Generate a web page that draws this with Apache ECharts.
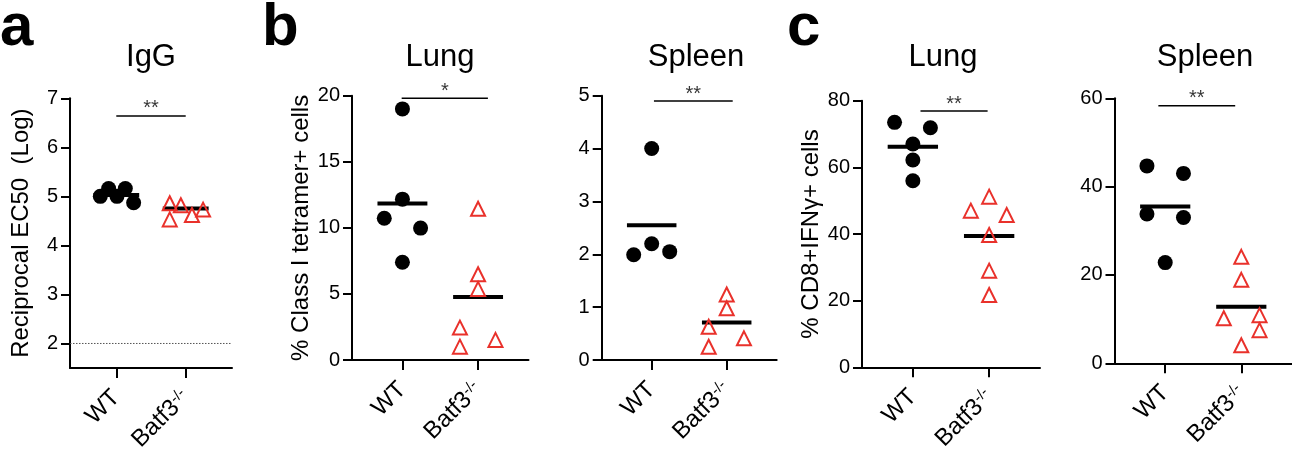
<!DOCTYPE html>
<html>
<head>
<meta charset="utf-8">
<script src="https://cdn.jsdelivr.net/npm/echarts@6/dist/echarts.min.js"></script>
<style>
  html, body { margin: 0; background: #fff; }
  #chart { width: 1292px; height: 455px; }
</style>
</head>
<body>
<div id="chart"></div>
<script>
// group labels on the x axis (0 = WT, 1 = Batf3-/-)
const groups = ['WT', 'Batf3-/-'];
const panelTitles = ['IgG', 'Lung', 'Spleen', 'Lung', 'Spleen'];
const panelLetters = ['a', 'b', 'c'];
const yNames = ['Reciprocal EC50  (Log)', '% Class I tetramer+ cells', '', '% CD8+IFNγ+ cells', ''];

// [jitter offset from group centre, value]
const iggWT    = [[-0.23, 5.0], [-0.11, 5.16], [0.01, 5.0], [0.13, 5.16], [0.25, 4.87]];
const iggKO    = [[-0.23, 4.86], [-0.07, 4.82], [-0.23, 4.53], [0.09, 4.62], [0.25, 4.73]];
const tetLungWT  = [[0, 19.0], [0, 12.17], [-0.24, 10.73], [0.24, 9.98], [0, 7.4]];
const tetLungKO  = [[0, 11.45], [0, 6.49], [0, 5.38], [-0.24, 2.45], [-0.24, 1.01], [0.23, 1.52]];
const tetSplWT   = [[0, 4.0], [-0.24, 1.99], [0, 2.2], [0.24, 2.05]];
const tetSplKO   = [[0, 1.24], [0, 0.98], [-0.24, 0.63], [-0.24, 0.25], [0.23, 0.41]];
const ifnLungWT  = [[-0.24, 73.5], [0.23, 71.9], [0, 67.0], [0, 62.2], [0, 56.0]];
const ifnLungKO  = [[0, 51.2], [-0.24, 47.0], [0.23, 45.7], [0, 39.7], [0, 29.0], [0, 21.7]];
const ifnSplWT   = [[-0.24, 44.7], [0.24, 43.0], [-0.24, 33.8], [0.24, 33.0], [0, 22.8]];
const ifnSplKO   = [[0, 24.1], [0, 18.9], [-0.23, 10.2], [0.24, 10.9], [0.24, 7.5], [0, 4.1]];

// group means (bar)
const meansWT = [5.03, 11.84, 2.55, 66.2, 35.5];
const meansKO = [4.755, 4.77, 0.71, 39.4, 12.8];

// significance brackets: [x start, x end, y], and stars
const sigBars = [[0, 1.0, 6.64], [-0.01, 1.13, 19.8], [0.03, 1.08, 4.9], [0.1, 0.98, 76.9], [-0.09, 0.92, 58.3]];
const sigStars = ['**', '*', '**', '**', '**'];

// y axis ranges
const yMin = [1.5, 0, 0, 0, 0];
const yMax = [7, 20, 5, 80, 60];
const yStep = [1, 5, 1, 20, 20];
const iggTicks = [2, 3, 4, 5, 6, 7];
const iggDetectionLimit = 2;

const wtData = [iggWT, tetLungWT, tetSplWT, ifnLungWT, ifnSplWT];
const koData = [iggKO, tetLungKO, tetSplKO, ifnLungKO, ifnSplKO];

const FONT = '"Liberation Sans", Arial, Helvetica, sans-serif';
const RED = '#e9312b';

const grids = [
  { left: 70, top: 98.3, width: 162, height: 269.7 },
  { left: 352, top: 95.7, width: 176.5, height: 264.3 },
  { left: 601.7, top: 95.7, width: 175, height: 264.3 },
  { left: 862, top: 100.7, width: 178, height: 266.6 },
  { left: 1114.5, top: 98.3, width: 177.5, height: 265 }
];
const titleX = [151, 440, 696, 943, 1205];
const letterX = [0, 262, 787];
const nameGaps = [37, 36, 0, 38, 0];

const xAxes = [], yAxes = [], series = [];
grids.forEach((g, i) => {
  xAxes.push({
    type: 'value', gridIndex: i, min: -2 / 3, max: 5 / 3,
    splitLine: { show: false },
    axisLine: { onZero: false, lineStyle: { color: '#000', width: 2 } },
    axisTick: { customValues: [0, 1], length: 10, lineStyle: { color: '#000', width: 2 } },
    axisLabel: {
      customValues: [0, 1], rotate: 45, margin: 26, color: '#000',
      fontFamily: FONT, fontSize: 24,
      formatter: v => Math.round(v) === 0 ? groups[0] : '{b|Batf3}{s|-/-}',
      rich: {
        b: { fontFamily: FONT, fontSize: 24, color: '#000', verticalAlign: 'bottom' },
        s: { fontFamily: FONT, fontSize: 15, color: '#000', verticalAlign: 'top' }
      }
    }
  });
  const yAx = {
    type: 'value', gridIndex: i, min: yMin[i], max: yMax[i],
    splitLine: { show: false },
    axisLine: { show: true, onZero: false, lineStyle: { color: '#000', width: 2 } },
    axisTick: { show: true, length: 9, lineStyle: { color: '#000', width: 2 } },
    axisLabel: { color: '#000', fontFamily: FONT, fontSize: 20, margin: 12 },
    name: yNames[i], nameLocation: 'middle', nameGap: nameGaps[i],
    nameTextStyle: { color: '#000', fontFamily: FONT, fontSize: 24 }
  };
  if (i === 0) {
    yAx.axisTick.customValues = iggTicks;
    yAx.axisLabel.customValues = iggTicks;
  } else {
    yAx.interval = yStep[i];
  }
  yAxes.push(yAx);

  // mean bars
  [[0, meansWT[i]], [1, meansKO[i]]].forEach(([c, m]) => {
    series.push({
      type: 'line', xAxisIndex: i, yAxisIndex: i, symbol: 'none', silent: true, z: 2,
      lineStyle: { color: '#000', width: 4 },
      data: [[c - 0.33, m], [c + 0.33, m]]
    });
  });
  // significance bracket
  const [sx0, sx1, sy] = sigBars[i];
  series.push({
    type: 'line', xAxisIndex: i, yAxisIndex: i, symbol: 'none', silent: true,
    lineStyle: { color: '#000', width: 1.5 },
    data: [[sx0, sy], [sx1, sy]]
  });
  series.push({
    type: 'scatter', xAxisIndex: i, yAxisIndex: i, symbolSize: 0, silent: true,
    label: { show: true, position: 'inside', offset: [0, -7], formatter: sigStars[i],
      color: '#000', fontFamily: FONT, fontSize: 20 },
    data: [[(sx0 + sx1) / 2, sy]]
  });
  // points
  series.push({
    type: 'scatter', xAxisIndex: i, yAxisIndex: i, symbol: 'circle', symbolSize: 15, z: 3,
    itemStyle: { color: '#000', opacity: 1 },
    data: wtData[i].map(([dx, v]) => [0 + dx, v])
  });
  series.push({
    type: 'scatter', xAxisIndex: i, yAxisIndex: i, symbol: 'triangle', symbolSize: 14, z: 4,
    itemStyle: { color: 'rgba(255,255,255,0)', borderColor: RED, borderWidth: 2, opacity: 1 },
    data: koData[i].map(([dx, v]) => [1 + dx, v])
  });
});

// detection limit in panel a
series.push({
  type: 'line', xAxisIndex: 0, yAxisIndex: 0, symbol: 'none', silent: true,
  lineStyle: { color: '#555', width: 1, type: [1.5, 1.5] },
  data: [[-2 / 3, iggDetectionLimit], [5 / 3, iggDetectionLimit]]
});

const graphic = [];
panelTitles.forEach((t, i) => {
  graphic.push({ type: 'text', x: titleX[i], y: 57,
    style: { text: t, fill: '#000', font: '31px ' + FONT, align: 'center', verticalAlign: 'middle' } });
});
panelLetters.forEach((t, i) => {
  graphic.push({ type: 'text', x: letterX[i], y: 28,
    style: { text: t, fill: '#000', font: 'bold 60px ' + FONT, align: 'left', verticalAlign: 'middle' } });
});

const chart = echarts.init(document.getElementById('chart'));
chart.setOption({
  animation: false,
  backgroundColor: '#fff',
  grid: grids,
  xAxis: xAxes,
  yAxis: yAxes,
  series: series,
  graphic: graphic
});
</script>
</body>
</html>
